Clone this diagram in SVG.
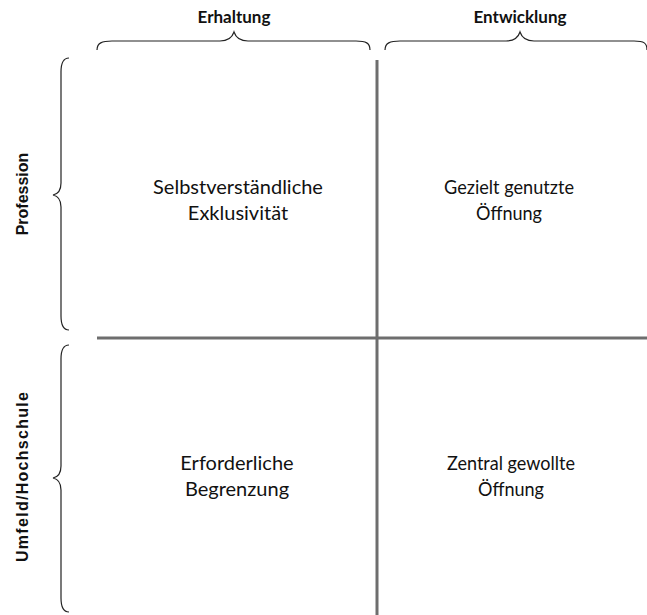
<svg xmlns="http://www.w3.org/2000/svg" width="647" height="615" viewBox="0 0 647 615">
<style>
.brace{fill:none;stroke:#222;stroke-width:1.2}
.axis{stroke:#6e6e6e;stroke-width:3}
.top{font-family:Lato,"Liberation Sans",sans-serif;font-weight:bold;font-size:17px;fill:#111;text-anchor:middle}
.side{font-family:"Liberation Sans",Arial,sans-serif;font-weight:bold;font-size:16px;fill:#111;text-anchor:middle}
.cell{font-family:Lato,"Liberation Sans",sans-serif;font-size:20px;fill:#111;text-anchor:middle}
</style>
<rect width="647" height="615" fill="#fff"/>
<g id="connectors">
<line class="axis" x1="377" y1="60" x2="377" y2="615"/>
<line class="axis" x1="97" y1="338" x2="647" y2="338"/>
</g>
<g id="brace-erhaltung">
<path class="brace" d="M97,50 C97,43 102,41 112,41 L220,41 C228,41 232,38 234,32 C236,38 240,41 248,41 L356,41 C366,41 370,43 370,50"/>
<text class="top" x="234" y="23">Erhaltung</text>
</g>
<g id="brace-entwicklung">
<path class="brace" d="M385,50 C385,43 390,41 400,41 L506,41 C514,41 518,38 520,32 C522,38 526,41 534,41 L634,41 C644,41 647,43 647,50"/>
<text class="top" x="520" y="23">Entwicklung</text>
</g>
<g id="brace-profession">
<path class="brace" d="M69,58 C63,58 61,63 61,72 L61,183 C61,190 58,194 53,195 C58,196 61,200 61,207 L61,316 C61,325 63,330 69,330"/>
<text class="side" transform="translate(28,194) rotate(-90)">Profession</text>
</g>
<g id="brace-umfeld">
<path class="brace" d="M69,345 C63,345 61,350 61,359 L61,466 C61,473 58,477 53,478 C58,479 61,483 61,490 L61,598 C61,607 63,612 69,612"/>
<text class="side" transform="translate(28,477) rotate(-90)" textLength="170" lengthAdjust="spacing">Umfeld/Hochschule</text>
</g>
<g id="cell-1">
<text class="cell" x="238" y="194">Selbstverständliche</text>
<text class="cell" x="238" y="220">Exklusivität</text>
</g>
<g id="cell-2">
<text class="cell" x="509" y="194" textLength="130" lengthAdjust="spacingAndGlyphs">Gezielt genutzte</text>
<text class="cell" x="509" y="220" textLength="66" lengthAdjust="spacingAndGlyphs">Öffnung</text>
</g>
<g id="cell-3">
<text class="cell" x="237" y="470">Erforderliche</text>
<text class="cell" x="237" y="496">Begrenzung</text>
</g>
<g id="cell-4">
<text class="cell" x="511" y="470" textLength="128" lengthAdjust="spacingAndGlyphs">Zentral gewollte</text>
<text class="cell" x="511" y="496" textLength="66" lengthAdjust="spacingAndGlyphs">Öffnung</text>
</g>
</svg>
